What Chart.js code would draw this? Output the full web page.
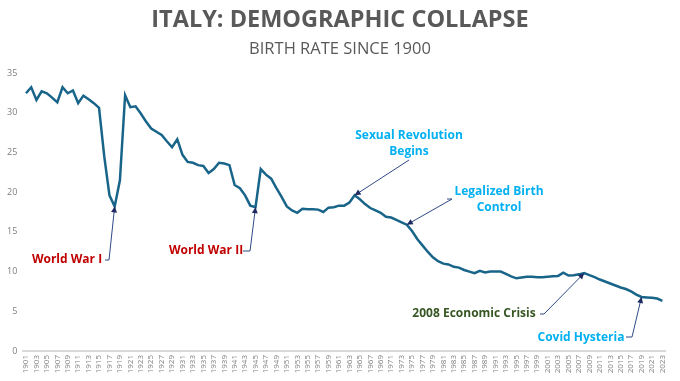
<!DOCTYPE html>
<html>
<head>
<meta charset="utf-8">
<script src="https://cdn.jsdelivr.net/npm/chart.js@4/dist/chart.umd.min.js"></script>
<style>
  html, body { margin: 0; padding: 0; background: #ffffff; }
  #wrap { width: 680px; height: 381px; }
</style>
</head>
<body>
<div id="wrap"><canvas id="c" width="680" height="381"></canvas></div>
<script>
// ---- DATA ----
const years = [
  1901,1902,1903,1904,1905,1906,1907,1908,1909,1910,
  1911,1912,1913,1914,1915,1916,1917,1918,1919,1920,
  1921,1922,1923,1924,1925,1926,1927,1928,1929,1930,
  1931,1932,1933,1934,1935,1936,1937,1938,1939,1940,
  1941,1942,1943,1944,1945,1946,1947,1948,1949,1950,
  1951,1952,1953,1954,1955,1956,1957,1958,1959,1960,
  1961,1962,1963,1964,1965,1966,1967,1968,1969,1970,
  1971,1972,1973,1974,1975,1976,1977,1978,1979,1980,
  1981,1982,1983,1984,1985,1986,1987,1988,1989,1990,
  1991,1992,1993,1994,1995,1996,1997,1998,1999,2000,
  2001,2002,2003,2004,2005,2006,2007,2008,2009,2010,
  2011,2012,2013,2014,2015,2016,2017,2018,2019,2020,
  2021,2022,2023
];
const birthRate = [
  32.45,33.2,31.6,32.7,32.45,31.9,31.3,33.2,32.45,32.8,
  31.2,32.15,31.7,31.2,30.6,24.5,19.6,18.2,21.5,32.2,
  30.7,30.8,29.9,28.9,28.0,27.6,27.2,26.4,25.65,26.65,
  24.7,23.8,23.7,23.4,23.3,22.4,22.9,23.7,23.6,23.4,
  20.9,20.5,19.6,18.3,18.1,22.9,22.2,21.7,20.5,19.4,
  18.2,17.7,17.4,17.9,17.85,17.85,17.8,17.5,18.05,18.1,
  18.3,18.3,18.7,19.6,19.1,18.5,18.0,17.7,17.4,16.9,
  16.8,16.5,16.2,15.9,15.1,14.1,13.3,12.5,11.8,11.3,
  11.0,10.9,10.6,10.5,10.2,10.0,9.8,10.1,9.9,10.0,
  10.0,10.0,9.7,9.4,9.15,9.25,9.35,9.35,9.3,9.3,
  9.35,9.4,9.45,9.85,9.5,9.55,9.65,9.8,9.55,9.3,
  9.0,8.75,8.5,8.25,8.0,7.8,7.5,7.1,6.8,6.75,
  6.7,6.6,6.3
];
const yTicks = [0, 5, 10, 15, 20, 25, 30, 35];
const titleText = "ITALY: DEMOGRAPHIC COLLAPSE";
const subtitleText = "BIRTH RATE SINCE 1900";
const eventLabels = ["World War I", "World War II", "Sexual Revolution\nBegins", "Legalized Birth\nControl", "2008 Economic Crisis", "Covid Hysteria"];
const eventYears = [1918, 1945, 1964, 1974, 2008, 2019];

// ---- STYLES / LAYOUT (not data) ----
const eventStyles = [
  { color: '#C00000', tx: 67,  ty: 260, path: [[105,260],[109,260]] },
  { color: '#C00000', tx: 206, ty: 251, path: [[243,251],[250,251]] },
  { color: '#00B0F0', tx: 409, ty: 136, path: [[409,160]] },
  { color: '#00B0F0', tx: 499, ty: 192, path: [[447,199],[452,199]] },
  { color: '#375623', tx: 474, ty: 314, path: [[540,314],[544,314]] },
  { color: '#00B0F0', tx: 581, ty: 338, path: [[626,337],[632,337]] }
];

const titlePlugin = {
  id: 'titles',
  afterDraw(chart) {
    const ctx = chart.ctx;
    ctx.save();
    ctx.textAlign = 'center';
    ctx.textBaseline = 'middle';
    ctx.fillStyle = '#595959';
    ctx.font = 'bold 23.5px "Open Sans"';
    ctx.fillText(titleText, 340, 20);
    ctx.font = '16.5px "Open Sans"';
    ctx.fillText(subtitleText, 340, 49);
    ctx.restore();
  }
};

const eventPlugin = {
  id: 'events',
  afterDatasetsDraw(chart) {
    const ctx = chart.ctx;
    const xs = chart.scales.x, ys = chart.scales.y;
    ctx.save();
    eventLabels.forEach((lab, k) => {
      const st = eventStyles[k];
      const idx = years.indexOf(eventYears[k]);
      const px = xs.getPixelForValue(idx);
      const py = ys.getPixelForValue(birthRate[idx]);
      ctx.strokeStyle = '#2F4A86';
      ctx.lineWidth = 1;
      ctx.beginPath();
      ctx.moveTo(st.path[0][0], st.path[0][1]);
      for (let i = 1; i < st.path.length; i++) ctx.lineTo(st.path[i][0], st.path[i][1]);
      ctx.lineTo(px, py);
      ctx.stroke();
      const last = st.path[st.path.length - 1];
      const ang = Math.atan2(py - last[1], px - last[0]);
      const L = 6, W = 3;
      ctx.fillStyle = '#1F2A60';
      ctx.beginPath();
      ctx.moveTo(px, py);
      ctx.lineTo(px - L * Math.cos(ang) + W * Math.sin(ang), py - L * Math.sin(ang) - W * Math.cos(ang));
      ctx.lineTo(px - L * Math.cos(ang) - W * Math.sin(ang), py - L * Math.sin(ang) + W * Math.cos(ang));
      ctx.closePath();
      ctx.fill();
      ctx.fillStyle = st.color;
      ctx.font = 'bold 12px "Open Sans"';
      ctx.textAlign = 'center';
      ctx.textBaseline = 'middle';
      lab.split('\n').forEach((ln, j) => ctx.fillText(ln, st.tx, st.ty + j * 16));
    });
    ctx.restore();
  }
};

new Chart(document.getElementById('c'), {
  type: 'line',
  data: {
    labels: years.map(String),
    datasets: [{
      data: birthRate,
      borderColor: '#19658A',
      borderWidth: 2.5,
      pointRadius: 0,
      tension: 0,
      fill: false
    }]
  },
  options: {
    responsive: false,
    animation: false,
    layout: { padding: { top: 73, right: 15, left: 0, bottom: 0 } },
    plugins: { legend: { display: false }, tooltip: { enabled: false }, title: { display: false } },
    scales: {
      x: {
        type: 'category',
        offset: true,
        grid: { display: false, drawTicks: false },
        border: { display: true, color: '#D9D9D9', width: 2 },
        ticks: {
          autoSkip: false, minRotation: 90, maxRotation: 90, padding: 4,
          color: '#7F7F7F', font: { family: '"Open Sans"', size: 8 },
          callback: (v, i) => (i % 2 === 0 ? String(years[i]) : '')
        },
        afterFit: (a) => { a.height = 30; }
      },
      y: {
        min: 0, max: 35,
        afterBuildTicks: (a) => { a.ticks = yTicks.map(v => ({ value: v })); },
        grid: { display: false, drawTicks: false },
        border: { display: false },
        ticks: { padding: 6, color: '#7F7F7F', font: { family: '"Open Sans"', size: 9 } },
        afterFit: (a) => { a.width = 23.4; }
      }
    }
  },
  plugins: [titlePlugin, eventPlugin]
});
</script>
</body>
</html>
